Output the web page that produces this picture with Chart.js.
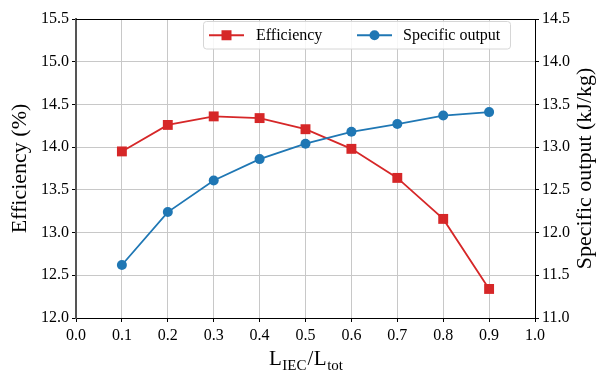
<!DOCTYPE html>
<html>
<head>
<meta charset="utf-8">
<script src="https://cdn.jsdelivr.net/npm/chart.js@4/dist/chart.umd.min.js"></script>
<style>
  html, body { margin: 0; padding: 0; background: #fff; }
  #wrap { width: 600px; height: 374px; }
</style>
</head>
<body>
<div id="wrap"><canvas id="c" width="600" height="374"></canvas></div>
<script>
// Length ratio L_IEC / L_tot
const ratios = [0.1, 0.2, 0.3, 0.4, 0.5, 0.6, 0.7, 0.8, 0.9];
// Efficiency (%) – left axis
const efficiency = [13.95, 14.26, 14.36, 14.34, 14.21, 13.98, 13.64, 13.16, 12.34];
// Specific output (kJ/kg) – right axis
const specificOutput = [11.62, 12.24, 12.61, 12.86, 13.04, 13.18, 13.27, 13.37, 13.41];

const seriesNames = ['Efficiency', 'Specific output'];
const RED = '#d62728';
const BLUE = '#1f77b4';
const SERIF = '"Liberation Serif", "Times New Roman", serif';

const toPoints = (ys) => ratios.map((x, i) => ({ x: x, y: ys[i] }));
const fmt1 = (v) => Number(v).toFixed(1);

// Frame, axis titles (with subscripts) and a boxed legend
const decorations = {
  id: 'decorations',
  afterDraw(chart) {
    const ctx = chart.ctx;
    const a = chart.chartArea;
    ctx.save();

    // top spine
    ctx.strokeStyle = '#000';
    ctx.lineWidth = 1;
    ctx.beginPath();
    ctx.moveTo(a.left, a.top + 0.5);
    ctx.lineTo(a.right, a.top + 0.5);
    ctx.stroke();

    // legend
    const lx = 203.5, ly = 21.5, lw = 307, lh = 27.5, r = 3;
    ctx.beginPath();
    ctx.moveTo(lx + r, ly);
    ctx.arcTo(lx + lw, ly, lx + lw, ly + lh, r);
    ctx.arcTo(lx + lw, ly + lh, lx, ly + lh, r);
    ctx.arcTo(lx, ly + lh, lx, ly, r);
    ctx.arcTo(lx, ly, lx + lw, ly, r);
    ctx.closePath();
    ctx.fillStyle = 'rgba(255,255,255,0.85)';
    ctx.fill();
    ctx.strokeStyle = '#d6d6d6';
    ctx.lineWidth = 1;
    ctx.stroke();

    const cy = ly + lh / 2;
    const entries = [
      { x0: 209, color: RED, shape: 'rect', text: seriesNames[0], tx: 256 },
      { x0: 357, color: BLUE, shape: 'circle', text: seriesNames[1], tx: 403 }
    ];
    entries.forEach(e => {
      ctx.strokeStyle = e.color;
      ctx.lineWidth = 1.8;
      ctx.beginPath();
      ctx.moveTo(e.x0, cy);
      ctx.lineTo(e.x0 + 35, cy);
      ctx.stroke();
      ctx.fillStyle = e.color;
      const mx = e.x0 + 17.5;
      if (e.shape === 'rect') {
        ctx.fillRect(mx - 5, cy - 5, 10, 10);
      } else {
        ctx.beginPath();
        ctx.arc(mx, cy, 5, 0, Math.PI * 2);
        ctx.fill();
      }
      ctx.fillStyle = '#000';
      ctx.font = '16px ' + SERIF;
      ctx.textAlign = 'left';
      ctx.textBaseline = 'middle';
      ctx.fillText(e.text, e.tx, cy + 1);
    });

    // left axis title
    const midY = (a.top + a.bottom) / 2;
    ctx.fillStyle = '#000';
    ctx.font = '22px ' + SERIF;
    ctx.textAlign = 'center';
    ctx.textBaseline = 'middle';
    ctx.save();
    ctx.translate(20, midY);
    ctx.rotate(-Math.PI / 2);
    ctx.fillText('Efficiency (%)', 0, 0);
    ctx.restore();

    // right axis title
    ctx.save();
    ctx.translate(585, midY);
    ctx.rotate(-Math.PI / 2);
    ctx.fillText('Specific output (kJ/kg)', 0, 0);
    ctx.restore();

    // x axis title: L_IEC / L_tot
    const parts = [
      { t: 'L', sub: false, gap: 0.5 }, { t: 'IEC', sub: true, gap: 1 },
      { t: '/', sub: false, gap: 0.5 }, { t: 'L', sub: false, gap: 0.5 }, { t: 'tot', sub: true, gap: 0 }
    ];
    const bigFont = '21px ' + SERIF, smallFont = '15px ' + SERIF;
    let total = 0;
    parts.forEach(p => {
      ctx.font = p.sub ? smallFont : bigFont;
      p.w = ctx.measureText(p.t).width + p.gap;
      total += p.w;
    });
    let x = 306 - total / 2;
    const base = 365;
    ctx.textAlign = 'left';
    ctx.textBaseline = 'alphabetic';
    parts.forEach(p => {
      ctx.font = p.sub ? smallFont : bigFont;
      ctx.fillText(p.t, x, p.sub ? base + 5 : base);
      x += p.w;
    });

    ctx.restore();
  }
};

const tickFont = { family: SERIF, size: 16 };

new Chart(document.getElementById('c'), {
  type: 'line',
  data: {
    datasets: [
      {
        label: seriesNames[1],
        data: toPoints(specificOutput),
        yAxisID: 'yR',
        borderColor: BLUE,
        backgroundColor: BLUE,
        borderWidth: 1.8,
        pointStyle: 'circle',
        pointRadius: 5,
        pointHoverRadius: 5,
        pointBorderWidth: 0,
        tension: 0
      },
      {
        label: seriesNames[0],
        data: toPoints(efficiency),
        yAxisID: 'yL',
        borderColor: RED,
        backgroundColor: RED,
        borderWidth: 1.8,
        pointStyle: 'rect',
        pointRadius: 7,
        pointHoverRadius: 7,
        pointBorderWidth: 0,
        tension: 0
      }
    ]
  },
  options: {
    responsive: false,
    animation: false,
    devicePixelRatio: 1,
    layout: { padding: { top: 19, left: 0, right: 0, bottom: 0 } },
    plugins: {
      legend: { display: false },
      tooltip: { enabled: false },
      title: { display: false }
    },
    scales: {
      x: {
        type: 'linear',
        min: 0, max: 1,
        ticks: {
          stepSize: 0.1,
          color: '#000',
          font: tickFont,
          padding: 4,
          maxRotation: 0,
          callback: fmt1
        },
        grid: { color: '#c8c8c8', lineWidth: 1, tickLength: 4, tickColor: '#000', drawTicks: true },
        border: { display: true, color: '#000', width: 1 },
        afterFit(s) { s.height = 56; }
      },
      yL: {
        type: 'linear',
        position: 'left',
        min: 12, max: 15.5,
        ticks: { stepSize: 0.5, color: '#000', font: tickFont, padding: 3, callback: fmt1 },
        grid: { color: '#c8c8c8', lineWidth: 1, tickLength: 4, tickColor: '#000' },
        border: { display: true, color: '#555', width: 2 },
        afterFit(s) { s.width = 76; }
      },
      yR: {
        type: 'linear',
        position: 'right',
        min: 11, max: 14.5,
        ticks: { stepSize: 0.5, color: '#000', font: tickFont, padding: 3, callback: fmt1 },
        grid: { drawOnChartArea: false, tickLength: 4, tickColor: '#000' },
        border: { display: true, color: '#000', width: 1 },
        afterFit(s) { s.width = 65; }
      }
    }
  },
  plugins: [decorations]
});
</script>
</body>
</html>
